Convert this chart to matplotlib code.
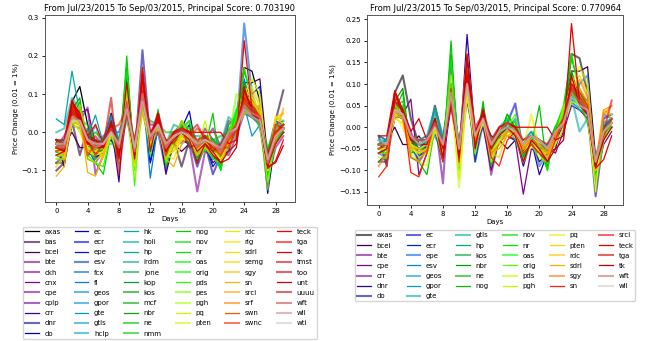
import numpy as np
import matplotlib
matplotlib.use('Agg')
import matplotlib.pyplot as plt

days = np.arange(30)

# daily price change per ticker (Jul/23/2015 .. Sep/03/2015)
axas = [-0.02,-0.09,0.08,0.12,0.02,-0.04,-0.04,0.05,-0.03,0.10,-0.06,0.13,-0.02,0.03,-0.05,-0.03,-0.02,-0.03,-0.05,-0.02,-0.04,-0.06,0.00,0.03,0.17,0.16,0.08,-0.09,0.00,0.02]
bas = [-0.10,-0.08,0.03,-0.06,0.01,-0.05,-0.02,0.03,-0.05,0.06,-0.04,0.08,-0.03,0.01,-0.06,-0.02,-0.09,-0.02,-0.06,-0.03,-0.07,-0.06,-0.03,0.00,0.06,0.05,0.03,-0.06,0.03,0.11]
bcei = [-0.02,-0.03,0.00,-0.04,-0.04,-0.02,-0.05,-0.01,-0.06,0.08,-0.04,0.10,-0.08,0.02,-0.02,-0.03,-0.05,-0.03,-0.06,-0.03,-0.08,-0.06,-0.05,0.02,0.13,0.13,0.14,-0.07,-0.01,0.00]
bte = [-0.08,-0.08,0.03,0.02,-0.03,-0.06,-0.04,-0.01,-0.05,0.06,-0.06,0.08,-0.02,0.03,-0.09,-0.02,0.00,-0.01,-0.05,-0.03,-0.05,-0.07,-0.02,0.01,0.06,0.06,0.03,-0.09,-0.02,0.00]
ckh = [-0.04,-0.05,0.02,0.01,-0.01,-0.07,-0.01,0.01,-0.03,0.05,-0.05,0.07,0.02,0.02,-0.07,-0.01,0.01,0.00,-0.03,0.01,-0.02,-0.04,0.03,0.02,0.07,0.09,0.04,-0.07,-0.01,0.01]
cnx = [-0.05,-0.06,0.02,0.05,0.06,-0.03,-0.05,0.02,-0.07,0.09,-0.05,0.10,-0.03,0.04,-0.06,-0.02,-0.01,-0.02,-0.08,-0.04,-0.05,-0.07,-0.03,0.02,0.10,0.08,0.06,-0.10,-0.03,0.00]
cpe = [-0.08,-0.06,0.02,0.03,0.065,-0.11,-0.06,-0.01,-0.08,0.05,-0.07,0.06,-0.04,0.00,-0.10,-0.03,-0.02,-0.03,-0.155,-0.05,-0.06,-0.05,-0.06,-0.01,0.05,0.04,0.02,-0.12,-0.04,-0.01]
cplp = [-0.04,-0.01,0.03,0.03,-0.05,-0.02,-0.03,0.00,0.00,0.06,-0.04,0.08,-0.01,0.05,-0.03,0.00,-0.03,-0.01,-0.04,-0.02,0.01,-0.04,0.00,0.01,0.08,0.05,0.07,-0.07,0.00,0.01]
crr = [-0.06,-0.05,0.05,0.04,-0.01,-0.07,-0.05,0.02,-0.13,0.15,-0.06,0.16,-0.05,0.03,-0.11,-0.02,-0.01,0.00,-0.07,-0.03,-0.05,-0.08,-0.02,0.00,0.10,0.07,0.05,-0.11,-0.02,0.01]
dnr = [-0.03,-0.04,0.04,0.03,-0.03,-0.04,-0.03,0.01,-0.05,0.10,-0.07,0.215,-0.02,0.02,-0.06,-0.02,0.00,-0.02,-0.09,-0.03,-0.11,-0.06,-0.03,0.01,0.09,0.08,0.06,-0.10,0.00,0.02]
do = [-0.05,-0.05,0.03,0.02,-0.02,-0.07,-0.04,0.00,-0.04,0.07,-0.05,0.09,-0.02,0.02,-0.05,-0.01,0.00,-0.01,-0.06,-0.03,-0.04,-0.06,-0.02,0.01,0.07,0.06,0.04,-0.16,-0.02,0.00]
ec = [-0.04,-0.03,0.05,0.04,-0.04,-0.08,-0.05,0.01,-0.03,0.08,-0.05,0.10,-0.05,0.01,-0.05,-0.02,0.01,0.055,-0.06,-0.02,-0.04,-0.05,-0.02,0.02,0.09,0.07,0.05,-0.14,0.02,0.03]
ecr = [-0.03,-0.04,0.04,0.03,-0.02,-0.05,-0.03,0.00,-0.04,0.07,-0.05,0.09,-0.03,0.02,-0.04,-0.01,0.00,-0.01,-0.08,-0.02,-0.03,-0.05,-0.01,0.01,0.08,0.05,0.04,-0.09,-0.01,0.01]
epe = [-0.06,-0.07,0.05,0.03,-0.05,-0.07,-0.04,-0.02,-0.06,0.09,-0.05,0.11,-0.08,0.01,-0.06,-0.03,-0.01,0.02,-0.07,-0.03,-0.09,-0.06,-0.04,0.00,0.06,0.10,0.12,-0.13,0.03,0.02]
esv = [-0.02,-0.03,0.04,0.02,-0.05,-0.03,-0.02,0.01,-0.03,0.06,-0.04,0.08,-0.04,0.01,-0.04,-0.01,0.01,-0.01,-0.03,-0.01,-0.05,-0.04,-0.01,0.01,0.06,0.05,0.03,-0.07,-0.01,0.01]
fcx = [-0.05,-0.06,0.03,0.02,-0.06,-0.05,-0.04,-0.01,-0.06,0.05,-0.08,0.07,-0.04,0.01,-0.07,-0.03,-0.02,-0.02,-0.05,-0.04,-0.06,-0.07,-0.04,0.00,0.285,0.10,0.04,-0.10,-0.02,0.00]
fi = [-0.03,-0.02,0.05,0.04,-0.04,-0.08,-0.05,0.00,-0.04,0.09,-0.06,0.11,-0.12,0.02,-0.05,-0.02,0.02,0.00,-0.03,-0.02,-0.07,-0.08,-0.03,0.02,0.14,0.06,0.03,-0.08,0.00,0.02]
geos = [-0.04,-0.03,0.04,0.03,-0.02,-0.04,-0.04,0.03,-0.03,0.07,-0.04,0.08,-0.02,0.02,-0.04,-0.02,0.01,-0.02,-0.04,-0.02,-0.04,-0.05,-0.02,0.01,0.07,0.05,0.03,-0.08,-0.01,0.02]
gpor = [-0.02,-0.03,0.03,0.03,-0.02,-0.03,-0.03,0.01,-0.04,0.06,-0.05,0.07,-0.02,0.01,-0.04,-0.01,0.00,-0.03,-0.07,-0.02,-0.03,-0.05,-0.01,0.02,0.06,0.04,0.03,-0.07,0.00,0.01]
gte = [-0.04,-0.04,0.05,0.03,-0.03,-0.04,-0.03,0.04,-0.04,0.07,-0.05,0.08,-0.02,0.02,-0.05,-0.02,0.01,-0.02,-0.05,-0.03,-0.04,-0.06,-0.02,0.02,0.07,-0.01,0.02,-0.08,0.01,0.02]
gtls = [-0.03,-0.03,0.05,0.03,-0.02,-0.03,-0.02,0.045,-0.02,0.08,-0.04,0.09,-0.01,0.02,-0.03,0.00,0.02,-0.02,-0.04,-0.01,-0.03,-0.04,0.00,0.02,0.08,0.04,0.03,-0.07,0.00,0.02]
hclp = [-0.03,-0.04,0.04,0.02,-0.02,-0.03,-0.05,0.00,-0.04,0.05,-0.05,0.07,-0.02,0.02,-0.04,-0.03,-0.01,-0.01,-0.04,-0.02,-0.03,-0.04,-0.01,0.01,0.06,0.04,0.03,-0.06,-0.01,0.01]
hk = [0.035,0.02,0.16,0.05,-0.01,0.045,-0.03,0.02,-0.03,0.06,-0.04,0.07,-0.02,0.03,-0.04,0.00,0.01,-0.04,-0.05,-0.03,-0.05,-0.06,0.00,0.02,0.07,0.05,0.04,-0.07,0.00,0.02]
holi = [0.00,0.01,0.09,0.06,-0.03,0.02,-0.05,0.02,-0.02,0.05,-0.03,0.06,-0.01,0.03,-0.03,0.00,0.02,-0.03,-0.04,-0.02,-0.04,-0.05,0.01,0.02,0.06,0.04,0.02,-0.06,0.01,0.03]
hp = [-0.05,-0.05,0.03,0.03,-0.03,-0.04,-0.03,0.01,-0.05,0.08,-0.06,0.10,-0.03,0.02,-0.05,-0.01,0.01,-0.01,-0.05,-0.02,-0.04,-0.06,-0.02,0.01,0.07,0.05,0.03,-0.09,-0.01,0.00]
irdm = [-0.03,-0.03,0.03,0.07,-0.02,-0.02,-0.06,0.01,-0.03,0.03,-0.04,0.06,-0.01,0.02,-0.03,0.02,0.01,-0.01,-0.01,-0.01,-0.02,-0.03,0.04,0.02,0.05,0.04,0.03,-0.05,0.03,0.01]
jone = [-0.04,-0.04,0.04,0.04,-0.03,-0.03,-0.04,0.00,-0.04,0.07,-0.05,0.08,-0.02,0.02,-0.04,-0.01,0.00,-0.02,-0.04,-0.02,-0.03,-0.05,-0.01,0.01,0.07,0.05,0.04,-0.08,-0.01,0.01]
kop = [-0.05,-0.06,0.05,0.05,-0.04,-0.04,-0.04,0.01,-0.06,0.12,-0.06,0.12,-0.03,0.04,-0.06,-0.02,0.02,0.00,-0.05,-0.03,-0.05,-0.07,0.02,0.04,0.11,0.06,0.04,-0.09,-0.02,0.02]
kos = [-0.03,-0.04,0.05,0.04,-0.03,-0.03,-0.03,0.00,-0.04,0.09,-0.05,0.09,-0.02,0.03,-0.04,-0.01,0.01,-0.01,-0.04,-0.02,-0.03,-0.05,-0.01,0.02,0.08,0.06,0.04,-0.08,-0.01,0.01]
mcf = [-0.02,-0.03,0.07,0.02,-0.02,0.00,-0.02,0.01,-0.02,0.05,-0.02,0.06,0.03,0.02,-0.03,0.00,0.01,0.03,-0.03,-0.01,-0.02,-0.01,0.00,0.02,0.12,0.04,0.03,-0.05,0.00,0.01]
nbr = [-0.06,-0.05,0.06,0.09,-0.06,-0.05,-0.06,0.02,-0.05,0.17,-0.08,0.12,-0.05,0.05,-0.07,-0.02,0.03,0.00,-0.06,-0.04,-0.06,-0.09,-0.01,0.03,0.13,0.07,0.05,-0.11,-0.02,0.02]
ne = [-0.04,-0.05,0.04,0.05,-0.03,-0.05,-0.05,0.00,-0.05,0.10,-0.06,0.10,-0.03,0.03,-0.05,-0.02,0.00,-0.01,-0.05,-0.02,-0.04,-0.06,-0.02,0.02,0.09,0.06,0.04,-0.09,-0.01,0.01]
nmm = [-0.03,-0.03,0.04,0.03,0.02,-0.03,-0.03,-0.03,-0.03,0.07,-0.04,0.07,-0.01,0.02,0.00,0.00,0.01,0.00,-0.03,-0.05,-0.02,-0.04,0.00,0.06,0.07,0.05,0.03,-0.04,0.00,0.01]
nog = [-0.08,-0.07,0.04,0.08,-0.07,-0.08,-0.11,0.00,-0.08,0.20,-0.10,0.14,-0.06,0.06,-0.09,-0.03,0.03,-0.01,-0.07,-0.04,0.05,-0.10,0.00,0.04,0.16,0.09,0.05,-0.12,-0.03,0.01]
nov = [-0.04,-0.04,0.04,0.04,-0.03,-0.04,-0.03,0.00,-0.04,0.08,-0.05,0.09,-0.02,0.03,-0.04,-0.01,0.01,-0.01,-0.04,-0.02,-0.03,-0.05,0.00,0.02,0.08,0.06,0.01,-0.08,-0.01,0.01]
nr = [-0.05,-0.06,0.05,0.06,-0.05,-0.06,-0.05,0.01,-0.06,0.16,-0.07,0.12,-0.04,0.04,-0.06,-0.02,0.02,0.01,-0.06,-0.03,-0.05,-0.10,0.00,0.05,0.17,0.08,0.05,-0.10,-0.02,0.01]
oas = [-0.05,-0.05,0.05,0.04,-0.04,-0.05,-0.04,0.00,-0.05,0.09,-0.06,0.10,-0.03,0.03,-0.05,-0.02,0.00,-0.01,-0.05,-0.02,-0.04,-0.07,-0.01,0.03,0.09,0.06,0.04,-0.09,-0.01,0.01]
orig = [-0.06,-0.06,0.03,0.03,-0.05,-0.06,-0.05,0.00,-0.06,0.07,-0.07,0.07,-0.03,0.02,-0.06,-0.02,0.00,0.03,-0.05,-0.03,-0.05,-0.06,-0.02,0.05,0.08,0.05,0.03,-0.10,-0.02,0.00]
pds = [-0.07,-0.07,0.04,0.04,-0.06,-0.08,-0.09,0.00,-0.07,0.12,-0.14,0.10,-0.06,0.03,-0.08,-0.03,-0.01,-0.02,-0.08,-0.04,-0.07,-0.08,-0.03,0.04,0.09,0.07,0.04,-0.13,-0.03,0.00]
pes = [-0.04,-0.05,0.03,0.03,-0.03,-0.05,-0.04,0.00,-0.05,0.07,-0.07,0.08,-0.03,0.02,-0.05,-0.02,0.00,-0.01,-0.05,-0.02,-0.04,-0.06,-0.02,0.10,0.07,0.05,0.03,-0.09,-0.01,0.01]
pgh = [-0.05,-0.05,0.02,0.01,-0.04,-0.07,-0.06,-0.01,-0.05,0.06,-0.12,0.07,-0.04,0.01,-0.06,-0.03,-0.02,-0.02,-0.06,-0.03,-0.06,-0.06,-0.04,0.00,0.06,0.05,0.03,-0.15,0.04,0.03]
pq = [-0.05,-0.05,0.03,0.00,-0.05,-0.06,-0.05,0.01,-0.06,0.08,-0.09,0.09,-0.04,0.02,-0.07,-0.03,-0.02,-0.01,-0.05,0.03,-0.05,-0.07,-0.03,0.02,0.10,0.14,0.10,-0.10,-0.01,0.01]
pten = [-0.04,-0.04,0.03,0.02,-0.04,-0.05,-0.04,0.01,-0.05,0.07,-0.06,0.10,-0.03,0.02,-0.05,-0.02,-0.01,-0.01,-0.05,-0.02,-0.04,-0.06,-0.02,0.01,0.09,0.12,0.08,-0.09,-0.01,0.01]
rdc = [-0.05,-0.05,0.04,0.02,-0.04,-0.06,-0.05,0.02,-0.06,0.08,-0.06,0.16,-0.02,0.02,-0.06,-0.07,-0.01,0.00,-0.04,-0.03,-0.06,-0.05,-0.02,0.01,0.10,0.08,0.05,-0.09,0.04,0.02]
rig = [-0.04,-0.07,0.03,0.02,-0.03,-0.04,-0.07,0.00,-0.05,0.11,-0.05,0.08,-0.02,0.02,-0.04,-0.05,0.00,-0.01,-0.04,-0.02,-0.06,-0.05,-0.01,0.01,0.07,0.10,0.04,-0.08,-0.01,0.01]
sdrl = [-0.06,-0.05,0.05,0.03,-0.05,-0.05,-0.06,0.02,-0.07,0.08,-0.06,0.17,-0.03,0.03,-0.06,-0.05,-0.02,-0.01,-0.05,-0.03,-0.05,-0.07,-0.02,0.02,0.11,0.09,0.06,-0.10,0.04,0.05]
semg = [-0.07,-0.05,0.03,0.07,-0.03,-0.04,-0.04,0.00,-0.04,0.06,-0.05,0.05,-0.02,0.02,-0.04,-0.02,0.03,-0.01,-0.04,-0.02,-0.03,-0.05,-0.01,0.01,0.05,0.05,0.04,-0.08,0.02,0.01]
sgy = [-0.09,-0.06,0.04,0.02,-0.07,-0.08,-0.05,0.01,-0.05,0.07,-0.06,0.12,-0.03,0.02,-0.06,-0.04,-0.01,-0.01,-0.05,-0.03,-0.04,-0.06,-0.02,0.01,0.09,0.11,0.07,-0.09,0.03,0.05]
sn = [-0.115,-0.09,0.06,0.04,-0.105,-0.115,-0.06,0.02,-0.08,0.09,-0.08,0.13,-0.04,0.03,-0.07,-0.09,-0.03,-0.01,-0.06,-0.04,-0.06,-0.08,-0.03,0.02,0.10,0.08,0.05,-0.09,-0.02,0.02]
srci = [-0.04,-0.04,0.07,0.04,-0.03,-0.03,-0.03,0.01,-0.04,0.05,-0.05,0.12,-0.02,0.04,-0.03,0.00,0.01,0.00,-0.03,-0.02,-0.03,-0.04,-0.01,0.01,0.10,0.07,0.04,-0.09,-0.01,0.062]
srf = [-0.03,-0.04,0.05,0.04,-0.02,-0.03,-0.03,0.01,-0.03,0.06,-0.04,0.09,-0.01,0.03,-0.03,0.00,0.01,0.00,-0.03,-0.01,-0.03,-0.04,0.00,0.02,0.08,0.06,0.04,-0.07,0.00,0.02]
swn = [-0.02,-0.05,0.07,0.05,-0.02,-0.04,-0.03,0.02,-0.05,0.07,-0.05,0.11,-0.02,0.04,-0.04,-0.01,0.01,0.00,-0.04,-0.02,-0.04,-0.05,-0.01,0.01,0.09,0.06,0.04,-0.08,0.00,0.02]
swnc = [-0.03,-0.03,0.05,0.04,-0.06,-0.03,-0.03,0.01,0.02,0.06,-0.04,0.08,-0.01,0.00,-0.03,0.00,0.01,-0.01,0.01,-0.01,-0.03,-0.04,-0.04,0.01,0.07,0.05,0.03,-0.07,-0.01,0.01]
teck = [-0.02,-0.02,0.085,0.04,-0.01,0.02,-0.03,0.02,-0.05,0.06,-0.06,0.17,-0.01,0.03,-0.04,0.00,0.01,0.00,0.00,0.00,0.00,0.00,-0.03,-0.02,0.24,0.06,0.03,-0.095,-0.075,-0.02]
tga = [-0.05,-0.04,0.06,0.04,-0.02,-0.03,-0.03,0.01,-0.04,0.06,-0.05,0.12,0.00,0.03,-0.04,-0.01,0.01,0.00,-0.04,-0.02,-0.03,-0.05,-0.01,0.02,0.09,0.06,0.04,-0.08,-0.01,0.01]
tk = [-0.06,-0.05,0.08,0.03,-0.03,-0.04,-0.04,0.02,-0.07,0.08,-0.07,0.16,-0.05,0.04,-0.05,-0.02,0.00,-0.02,-0.08,-0.03,-0.05,-0.08,-0.05,-0.03,0.12,0.05,0.03,-0.09,-0.03,0.00]
tmst = [-0.04,-0.05,0.07,0.04,-0.03,-0.01,-0.04,0.09,-0.11,0.07,-0.05,0.10,-0.02,0.05,-0.04,-0.01,0.01,0.00,0.02,-0.02,-0.04,-0.06,-0.02,0.01,0.10,0.07,0.04,-0.08,-0.01,0.01]
too = [-0.03,-0.04,0.06,0.03,-0.02,-0.06,-0.03,0.02,-0.04,0.06,-0.02,0.09,-0.01,0.03,-0.06,0.00,0.01,-0.04,-0.03,-0.02,-0.03,-0.04,-0.01,0.01,0.08,0.05,0.03,-0.07,0.02,0.01]
unt = [-0.04,-0.05,0.08,0.05,-0.03,-0.02,-0.04,0.03,-0.06,0.13,-0.06,0.14,-0.02,0.05,-0.05,-0.01,0.00,-0.01,-0.05,-0.03,-0.06,-0.08,-0.07,-0.04,0.11,0.06,0.04,-0.09,-0.08,-0.035]
uuuu = [-0.02,-0.03,0.05,0.03,-0.01,-0.02,-0.04,0.01,-0.03,0.05,-0.04,0.08,0.00,0.02,-0.02,-0.03,0.01,0.00,-0.02,-0.01,-0.05,-0.03,0.00,0.01,0.06,0.04,0.03,-0.06,0.00,0.02]
wft = [-0.04,-0.04,0.04,0.03,-0.02,-0.03,-0.03,0.01,-0.04,0.07,-0.05,0.10,-0.02,0.02,-0.04,-0.01,0.01,-0.01,-0.04,-0.02,-0.03,-0.05,-0.01,0.01,0.08,0.06,0.04,-0.08,-0.01,0.01]
wll = [-0.03,-0.04,0.04,0.03,-0.02,-0.04,-0.03,0.00,-0.04,0.08,-0.05,0.10,-0.02,0.02,-0.04,-0.01,0.00,-0.01,-0.04,-0.02,-0.03,-0.05,-0.01,0.01,0.07,0.05,0.04,-0.08,-0.01,0.01]
wti = [-0.03,-0.03,0.03,0.03,-0.02,-0.03,-0.03,0.00,-0.03,0.06,-0.04,0.08,-0.01,0.02,-0.03,-0.01,0.00,-0.01,-0.03,-0.02,-0.03,-0.04,0.00,0.01,0.06,0.04,0.03,-0.07,-0.01,0.01]

left_names = ['axas', 'bas', 'bcei', 'bte', 'ckh', 'cnx', 'cpe', 'cplp', 'crr', 'dnr', 'do',
              'ec', 'ecr', 'epe', 'esv', 'fcx', 'fi', 'geos', 'gpor', 'gte', 'gtls', 'hclp',
              'hk', 'holi', 'hp', 'irdm', 'jone', 'kop', 'kos', 'mcf', 'nbr', 'ne', 'nmm',
              'nog', 'nov', 'nr', 'oas', 'orig', 'pds', 'pes', 'pgh', 'pq', 'pten',
              'rdc', 'rig', 'sdrl', 'semg', 'sgy', 'sn', 'srci', 'srf', 'swn', 'swnc',
              'teck', 'tga', 'tk', 'tmst', 'too', 'unt', 'uuuu', 'wft', 'wll', 'wti']
right_names = ['axas', 'bcei', 'bte', 'cpe', 'crr', 'dnr', 'do', 'ec', 'ecr', 'epe', 'esv',
               'geos', 'gpor', 'gte', 'gtls', 'hp', 'kos', 'nbr', 'ne', 'nog', 'nov', 'nr',
               'oas', 'orig', 'pds', 'pgh', 'pq', 'pten', 'rdc', 'sdrl', 'sgy', 'sn', 'srci',
               'teck', 'tga', 'tk', 'wft', 'wll']
left_score = 0.703190
right_score = 0.770964

# 1 = wide faded line, 0 = thin solid line
left_thick = [0,1,0,1,1,0,1,1,0,1,0, 0,1,0,1,1,0,1,1,0,1,1, 0,1,0,1,1,0,1,1,0,1,1,
              0,1,0,1,1,0,1,1,0,1, 0,1,0,1,1,0,1,1,0,1, 0,1,0,1,1,0,1,1,1,1]
right_thick = [1,0,1,0,1,0,1, 1,0,1,0,1,0,1, 1,0,1,0,1,0, 1,0,1,0,1,0,
               1,0,1,0,1,0, 1,0,1,0,1,1]

series = {n: globals()[n] for n in left_names}

fig = plt.figure(figsize=(6.52, 3.41), dpi=100)
axl = fig.add_axes([0.069, 0.408, 0.383, 0.548])
axr = fig.add_axes([0.563, 0.399, 0.393, 0.557])

for ax, names, thick, score in [(axl, left_names, left_thick, left_score),
                                (axr, right_names, right_thick, right_score)]:
    cols = plt.cm.nipy_spectral(np.linspace(0, 1, len(names)))
    for name, c, t in zip(names, cols, thick):
        if t:
            ax.plot(days, series[name], color=c, lw=1.5, alpha=0.6, label=name)
        else:
            ax.plot(days, series[name], color=c, lw=0.9, label=name)
    ax.set_xticks(np.arange(0, 30, 4))
    ax.tick_params(labelsize=5, length=2.5, width=0.6, pad=2)
    ax.set_xlabel('Days', fontsize=5, labelpad=1)
    ax.set_ylabel('Price Change (0.01 = 1%)', fontsize=5, labelpad=2)
    ax.set_title('From Jul/23/2015 To Sep/03/2015, Principal Score: %f' % score,
                 fontsize=6, pad=3)
    for s in ax.spines.values():
        s.set_linewidth(0.7)
        s.set_color('#555555')
    ax.legend(loc='upper center', bbox_to_anchor=(0.5, -0.115), ncol=6,
              fontsize=5, labelspacing=0.6, handlelength=2.0,
              columnspacing=2.0, borderpad=0.3, frameon=True)

fig.savefig('out.png', dpi=100)
